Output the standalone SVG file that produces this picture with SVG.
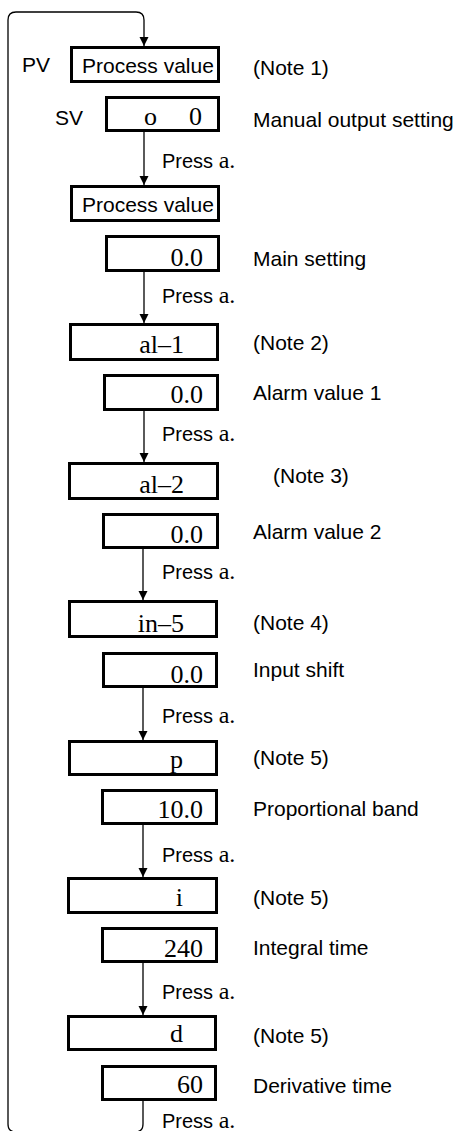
<svg xmlns="http://www.w3.org/2000/svg" width="457" height="1131" viewBox="0 0 457 1131">
<style>
.bg{fill:#fff}
.box{fill:#fff;stroke:#000;stroke-width:3}
.ln{fill:none;stroke:#000;stroke-width:1.3}
.s{font-family:"Liberation Sans",Arial,sans-serif;font-size:21px;fill:#000}
.p{font-family:"Liberation Sans",Arial,sans-serif;font-size:20px;fill:#000}
.k{font-family:"Liberation Serif","Times New Roman",serif;font-size:24px}
.v{font-family:"Liberation Serif","Times New Roman",serif;font-size:26px;fill:#000;text-anchor:end}
</style>
<defs>
<marker id="ah" markerUnits="userSpaceOnUse" markerWidth="10" markerHeight="10" viewBox="0 0 10 10" refX="9" refY="5" orient="auto">
<path d="M0,0.5 L9,5 L0,9.5 Z" fill="#000"/>
</marker>
</defs>
<rect class="bg" x="0" y="0" width="457" height="1131"/>
<g id="connectors">
<path class="ln" d="M143,1101 V1124 Q143,1132 135,1132 H16 Q8,1132 8,1124 V20 Q8,12 16,12 H136 Q144,12 144,20 V46" marker-end="url(#ah)"/>
<line class="ln" x1="144" y1="132" x2="144" y2="185" marker-end="url(#ah)"/>
<line class="ln" x1="144" y1="272" x2="144" y2="323" marker-end="url(#ah)"/>
<line class="ln" x1="144" y1="411" x2="144" y2="462" marker-end="url(#ah)"/>
<line class="ln" x1="143" y1="549" x2="143" y2="600" marker-end="url(#ah)"/>
<line class="ln" x1="143" y1="688" x2="143" y2="740" marker-end="url(#ah)"/>
<line class="ln" x1="143" y1="825" x2="143" y2="877" marker-end="url(#ah)"/>
<line class="ln" x1="143" y1="963" x2="143" y2="1015" marker-end="url(#ah)"/>
<text class="p" x="162" y="168">Press <tspan class="k">a.</tspan></text>
<text class="p" x="162" y="303">Press <tspan class="k">a.</tspan></text>
<text class="p" x="162" y="441">Press <tspan class="k">a.</tspan></text>
<text class="p" x="162" y="579">Press <tspan class="k">a.</tspan></text>
<text class="p" x="162" y="723">Press <tspan class="k">a.</tspan></text>
<text class="p" x="162" y="862">Press <tspan class="k">a.</tspan></text>
<text class="p" x="162" y="999">Press <tspan class="k">a.</tspan></text>
<text class="p" x="162" y="1128">Press <tspan class="k">a.</tspan></text>
</g>
<g id="n-pv">
<text class="s" x="22" y="72">PV</text>
<rect class="box" x="71.5" y="47.5" width="147" height="34"/>
<text class="s" x="82" y="73">Process value</text>
<text class="s" x="253" y="75">(Note 1)</text>
</g>
<g id="n-sv">
<text class="s" x="55" y="125">SV</text>
<rect class="box" x="106.5" y="97.5" width="112" height="33"/>
<text class="v" x="157" y="125">o<tspan x="202">0</tspan></text>
<text class="s" x="253" y="127">Manual output setting</text>
</g>
<g id="n-pv2">
<rect class="box" x="71.5" y="186.5" width="147" height="34"/>
<text class="s" x="82" y="212">Process value</text>
</g>
<g id="n-main">
<rect class="box" x="106.5" y="236.5" width="112" height="34"/>
<text class="v" x="203" y="266">0.0</text>
<text class="s" x="253" y="266">Main setting</text>
</g>
<g id="n-al1">
<rect class="box" x="70.5" y="324.5" width="147" height="35"/>
<text class="v" x="184" y="353">al–1</text>
<text class="s" x="253" y="350">(Note 2)</text>
</g>
<g id="n-al1v">
<rect class="box" x="104.5" y="375.5" width="113" height="34"/>
<text class="v" x="203" y="403">0.0</text>
<text class="s" x="253" y="400">Alarm value 1</text>
</g>
<g id="n-al2">
<rect class="box" x="69.5" y="463.5" width="148" height="35"/>
<text class="v" x="184" y="493">al–2</text>
<text class="s" x="273" y="483">(Note 3)</text>
</g>
<g id="n-al2v">
<rect class="box" x="103.5" y="514.5" width="114" height="33"/>
<text class="v" x="203" y="543">0.0</text>
<text class="s" x="253" y="539">Alarm value 2</text>
</g>
<g id="n-in5">
<rect class="box" x="69.5" y="601.5" width="147" height="35"/>
<text class="v" x="184" y="632">in–5</text>
<text class="s" x="253" y="630">(Note 4)</text>
</g>
<g id="n-in5v">
<rect class="box" x="103.5" y="653.5" width="113" height="33"/>
<text class="v" x="203" y="683">0.0</text>
<text class="s" x="253" y="677">Input shift</text>
</g>
<g id="n-p">
<rect class="box" x="69.5" y="741.5" width="147" height="33"/>
<text class="v" x="183" y="768">p</text>
<text class="s" x="253" y="765">(Note 5)</text>
</g>
<g id="n-pv3">
<rect class="box" x="102.5" y="790.5" width="114" height="33"/>
<text class="v" x="203" y="818">10.0</text>
<text class="s" x="253" y="816">Proportional band</text>
</g>
<g id="n-i">
<rect class="box" x="68.5" y="878.5" width="148" height="34"/>
<text class="v" x="183" y="906">i</text>
<text class="s" x="253" y="905">(Note 5)</text>
</g>
<g id="n-iv">
<rect class="box" x="102.5" y="928.5" width="114" height="33"/>
<text class="v" x="203" y="957">240</text>
<text class="s" x="253" y="955">Integral time</text>
</g>
<g id="n-d">
<rect class="box" x="68.5" y="1016.5" width="147" height="33"/>
<text class="v" x="183" y="1042">d</text>
<text class="s" x="253" y="1043">(Note 5)</text>
</g>
<g id="n-dv">
<rect class="box" x="102.5" y="1066.5" width="113" height="33"/>
<text class="v" x="203" y="1093">60</text>
<text class="s" x="253" y="1093">Derivative time</text>
</g>
</svg>
